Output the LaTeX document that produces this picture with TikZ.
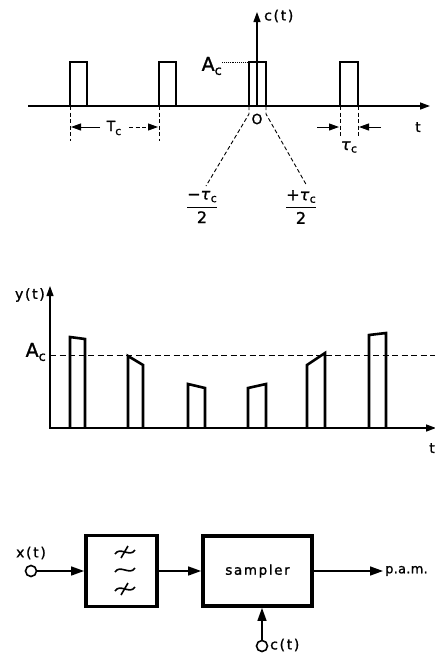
\documentclass[tikz,border=0pt]{standalone}
\usepackage{fontspec}
\setmainfont{DejaVu Sans}[LetterSpace=12, FakeBold=1.2]
\usetikzlibrary{arrows.meta}
\newcommand{\tauc}{{\itshape τ}\kern0.5pt\raisebox{-2.5pt}{\fontsize{11}{12}\selectfont c}}
\begin{document}
\begin{tikzpicture}[x=1pt,y=-1pt,
  wave/.style={line width=2.6pt, line join=miter},
  axisline/.style={line width=1.5pt},
  dimline/.style={line width=0.9pt, dash pattern=on 4pt off 2.5pt},
  tip/.style={-{Triangle[length=10pt,width=7pt]}},
  bigtip/.style={-{Triangle[length=13pt,width=9pt]}},
  lbl/.style={inner sep=0pt, font=\fontsize{14}{16}\selectfont},
  biglbl/.style={inner sep=0pt, font=\fontsize{19}{21}\selectfont},
  blk/.style={draw, line width=3.8pt, inner sep=0pt},
  term/.style={circle, draw, line width=1.6pt, minimum size=11pt, inner sep=0pt},
  conn/.style={line width=1.5pt, bigtip}]
\useasboundingbox (0,0) rectangle (435,657);

% ---------- top panel: c(t) ----------
\draw[axisline, tip] (28,106) -- (430,106);
\foreach \a/\b in {70/87, 159/176, 249/266, 340/358}
  \draw[wave] (\a,106) -- (\a,62) -- (\b,62) -- (\b,106);
\draw[line width=1.1pt, tip] (257,106) -- (257,12);
\node[lbl, anchor=west] (ct) at (264,16) {c(t)};
\draw[line width=0.9pt, densely dotted] (222,62) -- (249,62);
\node[biglbl, anchor=east] (ac1) at (222,66) {A\raisebox{-4pt}{\fontsize{13}{14}\selectfont c}};
\node[lbl] (o) at (257,119) {O};
\node[lbl] (t1) at (418,127) {t};
% T_c
\draw[dimline] (70,106) -- (70,141);
\draw[dimline] (159,106) -- (159,141);
\draw[line width=1pt, tip] (100,127) -- (71,127);
\node[lbl] (Tc) at (114,128) {T\raisebox{-4pt}{\fontsize{11}{12}\selectfont c}};
\draw[dimline, tip] (129,127) -- (158,127);
% tau_c
\draw[dimline] (340,106) -- (340,138);
\draw[dimline] (358,106) -- (358,138);
\draw[line width=1pt, tip] (317,127) -- (339,127);
\draw[line width=1pt, tip] (381,127) -- (359,127);
\node[lbl, font=\fontsize{16}{17}\selectfont] (tc) at (349,147) {\tauc};
% +/- tau_c/2
\draw[dimline] (249,106) -- (249,114) -- (206,186);
\draw[dimline] (266,106) -- (266,114) -- (307,186);
\node[lbl, font=\fontsize{16}{17}\selectfont] (mt) at (202,207) {$\displaystyle\frac{\mbox{−\tauc}}{\mbox{2}}$};
\node[lbl, font=\fontsize{16}{17}\selectfont] (pt) at (301,207) {$\displaystyle\frac{\mbox{+\tauc}}{\mbox{2}}$};

% ---------- middle panel: y(t) ----------
\draw[axisline, tip] (49,428) -- (436,428);
\draw[line width=1.1pt, tip] (50,428) -- (50,286);
\node[lbl, anchor=east] (yt) at (45,295) {y(t)};
\node[biglbl, anchor=east] (ac2) at (46,352) {A\raisebox{-4pt}{\fontsize{13}{14}\selectfont c}};
\draw[line width=1pt, dash pattern=on 6pt off 3.5pt] (50,355) -- (435,355);
\node[lbl, anchor=east] (t2) at (435,448) {t};
\foreach \a/\b/\l/\r in {70/85/337/339, 128/143/356/365, 188/205/384/388,
                         248/266/388/384, 307/325/365/353, 369/386/335/333}
  \draw[wave] (\a,428) -- (\a,\l) -- (\b,\r) -- (\b,428);

% ---------- bottom panel: block diagram ----------
\node[blk, minimum width=71pt, minimum height=71pt] (flt) at (121.5,571) {};
\node[blk, minimum width=109pt, minimum height=70pt,
      font=\fontsize{13.5}{15}\selectfont] (smp) at (257.5,571) {sampler};
\foreach \yy/\st in {552/1, 570/0, 589/1}{
  \draw[line width=1.6pt] (115,\yy+2) .. controls (120,\yy-6) and (130,\yy+6) .. (135,\yy-2);
  \ifnum\st=1 \draw[line width=1.6pt] (121,\yy+6) -- (128,\yy-6); \fi
}
\node[term] (xin) at (31,571) {};
\node[lbl] (xl) at (31,553) {x(t)};
\draw[conn] (xin) -- (flt);
\draw[conn] (flt) -- (smp);
\coordinate (out) at (383,571);
\draw[conn] (smp) -- (out);
\node[lbl, anchor=west, font=\fontsize{13}{15}\selectfont\addfontfeature{LetterSpace=2}] (pam) at (385,571) {p.a.m.};
\node[term] (cin) at (262,646) {};
\draw[conn] (cin) -- (cin |- smp.south);
\node[lbl, anchor=west] (cl) at (270,645) {c(t)};
\end{tikzpicture}
\end{document}
